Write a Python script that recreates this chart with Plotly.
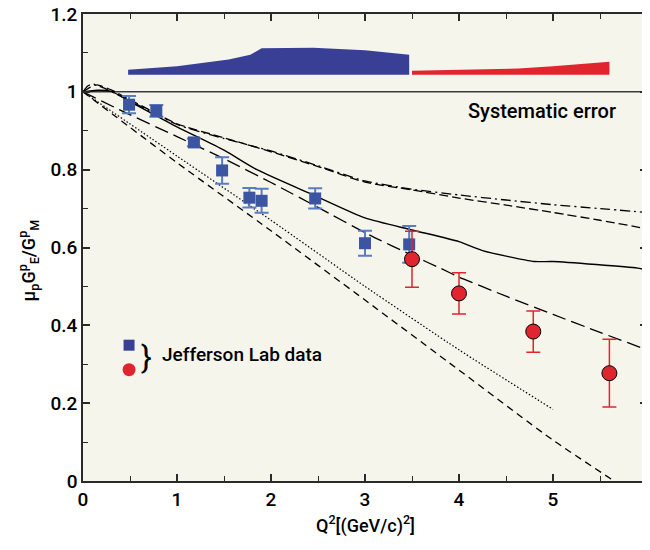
import plotly.graph_objects as go

# ---- data ----
blue_x = [0.49, 0.78, 1.18, 1.48, 1.77, 1.90, 2.47, 3.00, 3.47]
blue_y = [0.967, 0.951, 0.870, 0.798, 0.728, 0.720, 0.726, 0.611, 0.608]
blue_err = [0.022, 0.015, 0.010, 0.034, 0.025, 0.031, 0.026, 0.032, 0.047]

red_x = [3.50, 4.00, 4.79, 5.60]
red_y = [0.570, 0.482, 0.384, 0.277]
red_err = [0.072, 0.053, 0.053, 0.087]

sys_blue_x = [0.48, 1.0, 1.55, 1.78, 1.9, 2.45, 3.0, 3.47]
sys_blue_top = [1.057, 1.066, 1.083, 1.095, 1.112, 1.113, 1.107, 1.095]
sys_red_x = [3.5, 4.0, 4.63, 5.0, 5.6]
sys_red_top = [1.054, 1.056, 1.060, 1.066, 1.077]
sys_base = 1.044

dashdot_x = [0, 0.05, 0.1, 0.2, 0.5, 1.0, 1.5, 2.0, 2.5, 3.0, 3.5, 4.0, 4.5, 5.0, 5.5, 6.0]
dashdot_y = [1.0, 1.015, 1.02, 1.012, 0.977, 0.916, 0.88, 0.848, 0.81, 0.771, 0.750, 0.735, 0.722, 0.710, 0.700, 0.690]

dash_x = [0, 0.08, 0.15, 0.3, 0.5, 1.0, 1.5, 2.0, 2.5, 3.0, 3.5, 4.0, 4.5, 5.0, 5.5, 6.0]
dash_y = [1.0, 1.012, 1.018, 1.005, 0.98, 0.918, 0.882, 0.846, 0.808, 0.768, 0.748, 0.727, 0.709, 0.690, 0.670, 0.648]

solid_x = [0, 0.15, 0.3, 0.5, 1.0, 1.5, 1.85, 2.45, 3.0, 3.5, 4.0, 4.25, 4.8, 5.0, 5.9, 6.0]
solid_y = [1.0, 1.004, 1.001, 0.975, 0.910, 0.850, 0.800, 0.735, 0.676, 0.645, 0.615, 0.592, 0.564, 0.564, 0.547, 0.542]

longdash_x = [0, 0.43, 1.0, 1.5, 2.0, 2.5, 3.05, 3.5, 3.8, 4.0, 4.5, 5.0, 5.5, 6.0]
longdash_y = [1.0, 0.949, 0.885, 0.828, 0.767, 0.703, 0.632, 0.580, 0.547, 0.524, 0.475, 0.428, 0.382, 0.337]

dotted_x = [0, 1.0, 2.0, 3.0, 4.0, 5.0]
dotted_y = [1.0, 0.835, 0.670, 0.500, 0.337, 0.184]

shortdash_x = [0, 1.0, 2.0, 3.0, 4.0, 5.0, 5.65]
shortdash_y = [1.0, 0.818, 0.643, 0.465, 0.285, 0.105, 0.0]

x_ticks = [0, 1, 2, 3, 4, 5, 6]
y_ticks = [0, 0.2, 0.4, 0.6, 0.8, 1.0, 1.2]
y_ticklabels = ["0", "0.2", "0.4", "0.6", "0.8", "1", "1.2"]

BLUE_BAND = "#393f94"
BLUE_SQ = "#3b55a3"
BLUE_ERR = "#5a7cc4"
RED = "#e0252f"
BG = "#f6f5ec"
FONT = "Roboto"

fig = go.Figure()

# systematic error bands
fig.add_trace(go.Scatter(
    x=sys_blue_x + sys_blue_x[::-1],
    y=sys_blue_top + [sys_base] * len(sys_blue_x),
    fill="toself", fillcolor=BLUE_BAND, mode="lines", line=dict(width=0),
    showlegend=False, hoverinfo="skip"))
fig.add_trace(go.Scatter(
    x=sys_red_x + sys_red_x[::-1],
    y=sys_red_top + [sys_base] * len(sys_red_x),
    fill="toself", fillcolor=RED, mode="lines", line=dict(width=0),
    showlegend=False, hoverinfo="skip"))

# reference line at 1
fig.add_trace(go.Scatter(x=[0, 6], y=[1, 1], mode="lines",
                         line=dict(color="#3a3a3a", width=1.5),
                         showlegend=False, hoverinfo="skip"))

# theory curves
curves = [
    (dashdot_x, dashdot_y, "10px,4px,2px,4px", 1.3),
    (dash_x, dash_y, "9px,4px", 1.3),
    (solid_x, solid_y, "solid", 1.4),
    (longdash_x, longdash_y, "14px,6px", 1.3),
    (dotted_x, dotted_y, "1.5px,2px", 1.2),
    (shortdash_x, shortdash_y, "7px,5px", 1.3),
]
for cx, cy, dash, w in curves:
    fig.add_trace(go.Scatter(x=cx, y=cy, mode="lines",
                             line=dict(color="black", width=w, dash=dash, shape="spline", smoothing=0.6),
                             showlegend=False, hoverinfo="skip"))

# data points
fig.add_trace(go.Scatter(
    x=blue_x, y=blue_y, mode="markers",
    marker=dict(symbol="square", size=12, color=BLUE_SQ),
    error_y=dict(type="data", array=blue_err, color=BLUE_ERR, thickness=2, width=7),
    showlegend=False))
fig.add_trace(go.Scatter(
    x=red_x, y=red_y, mode="markers",
    marker=dict(symbol="circle", size=15, color=RED, line=dict(color="black", width=1)),
    error_y=dict(type="data", array=red_err, color=RED, thickness=1.5, width=7),
    showlegend=False))

# legend-like markers
fig.add_trace(go.Scatter(x=[0.49], y=[0.349], mode="markers",
                         marker=dict(symbol="square", size=11, color=BLUE_BAND),
                         showlegend=False, hoverinfo="skip"))
fig.add_trace(go.Scatter(x=[0.49], y=[0.286], mode="markers",
                         marker=dict(symbol="circle", size=13, color=RED),
                         showlegend=False, hoverinfo="skip"))

fig.add_annotation(x=0.6, y=0.318, xref="x", yref="y", text="}", showarrow=False,
                   font=dict(family=FONT, size=32, color="black"), xanchor="left", yanchor="middle")
fig.add_annotation(x=0.82, y=0.325, xref="x", yref="y", text="Jefferson Lab data", showarrow=False,
                   font=dict(family=FONT, size=19, color="black", weight=500), xanchor="left", yanchor="middle")
fig.add_annotation(x=5.69, y=0.951, xref="x", yref="y", text="Systematic error", showarrow=False,
                   font=dict(family=FONT, size=20, color="black", weight=500), xanchor="right", yanchor="middle")

# axis titles as annotations for precise placement
fig.add_annotation(x=0.5, y=-0.094, xref="paper", yref="paper",
                   text="Q<sup>2</sup>[(GeV/c)<sup>2</sup>]", showarrow=False,
                   font=dict(family=FONT, size=18, color="black", weight=500),
                   xanchor="center", yanchor="middle")
fig.add_annotation(x=-0.097, y=0.473, xref="paper", yref="paper",
                   text="μ<sub>p</sub>G<sup>p</sup><sub>E</sub>/G<sup>p</sup><sub>M</sub>", showarrow=False,
                   textangle=-90,
                   font=dict(family=FONT, size=18, color="black", weight=500),
                   xanchor="center", yanchor="middle")

axis_common = dict(showline=True, linecolor="#2a2a2a", linewidth=1.5, mirror="ticks",
                   ticks="inside", ticklen=7, tickwidth=1.5, tickcolor="#2a2a2a",
                   showgrid=False, zeroline=False, automargin=False,
                   ticklabeloverflow="allow",
                   tickfont=dict(family=FONT, size=19, color="black", weight=500))

fig.update_xaxes(range=[0, 6], tickvals=x_ticks,
                 minor=dict(ticks="inside", dtick=0.5, ticklen=5, tickwidth=1.2, tickcolor="#2a2a2a"),
                 **axis_common)
fig.update_yaxes(range=[0, 1.2], tickvals=y_ticks, ticktext=y_ticklabels,
                 minor=dict(ticks="inside", dtick=0.1, ticklen=5, tickwidth=1.2, tickcolor="#2a2a2a"),
                 **axis_common)

# the page body adds an 8px offset; the figure extends past the window so the plot area lands where the reference has it
fig.update_layout(width=650, height=550, margin=dict(l=75, r=11, t=6, b=77, autoexpand=False),
                  paper_bgcolor="white", plot_bgcolor=BG, showlegend=False)

fig.write_html("out.html")
